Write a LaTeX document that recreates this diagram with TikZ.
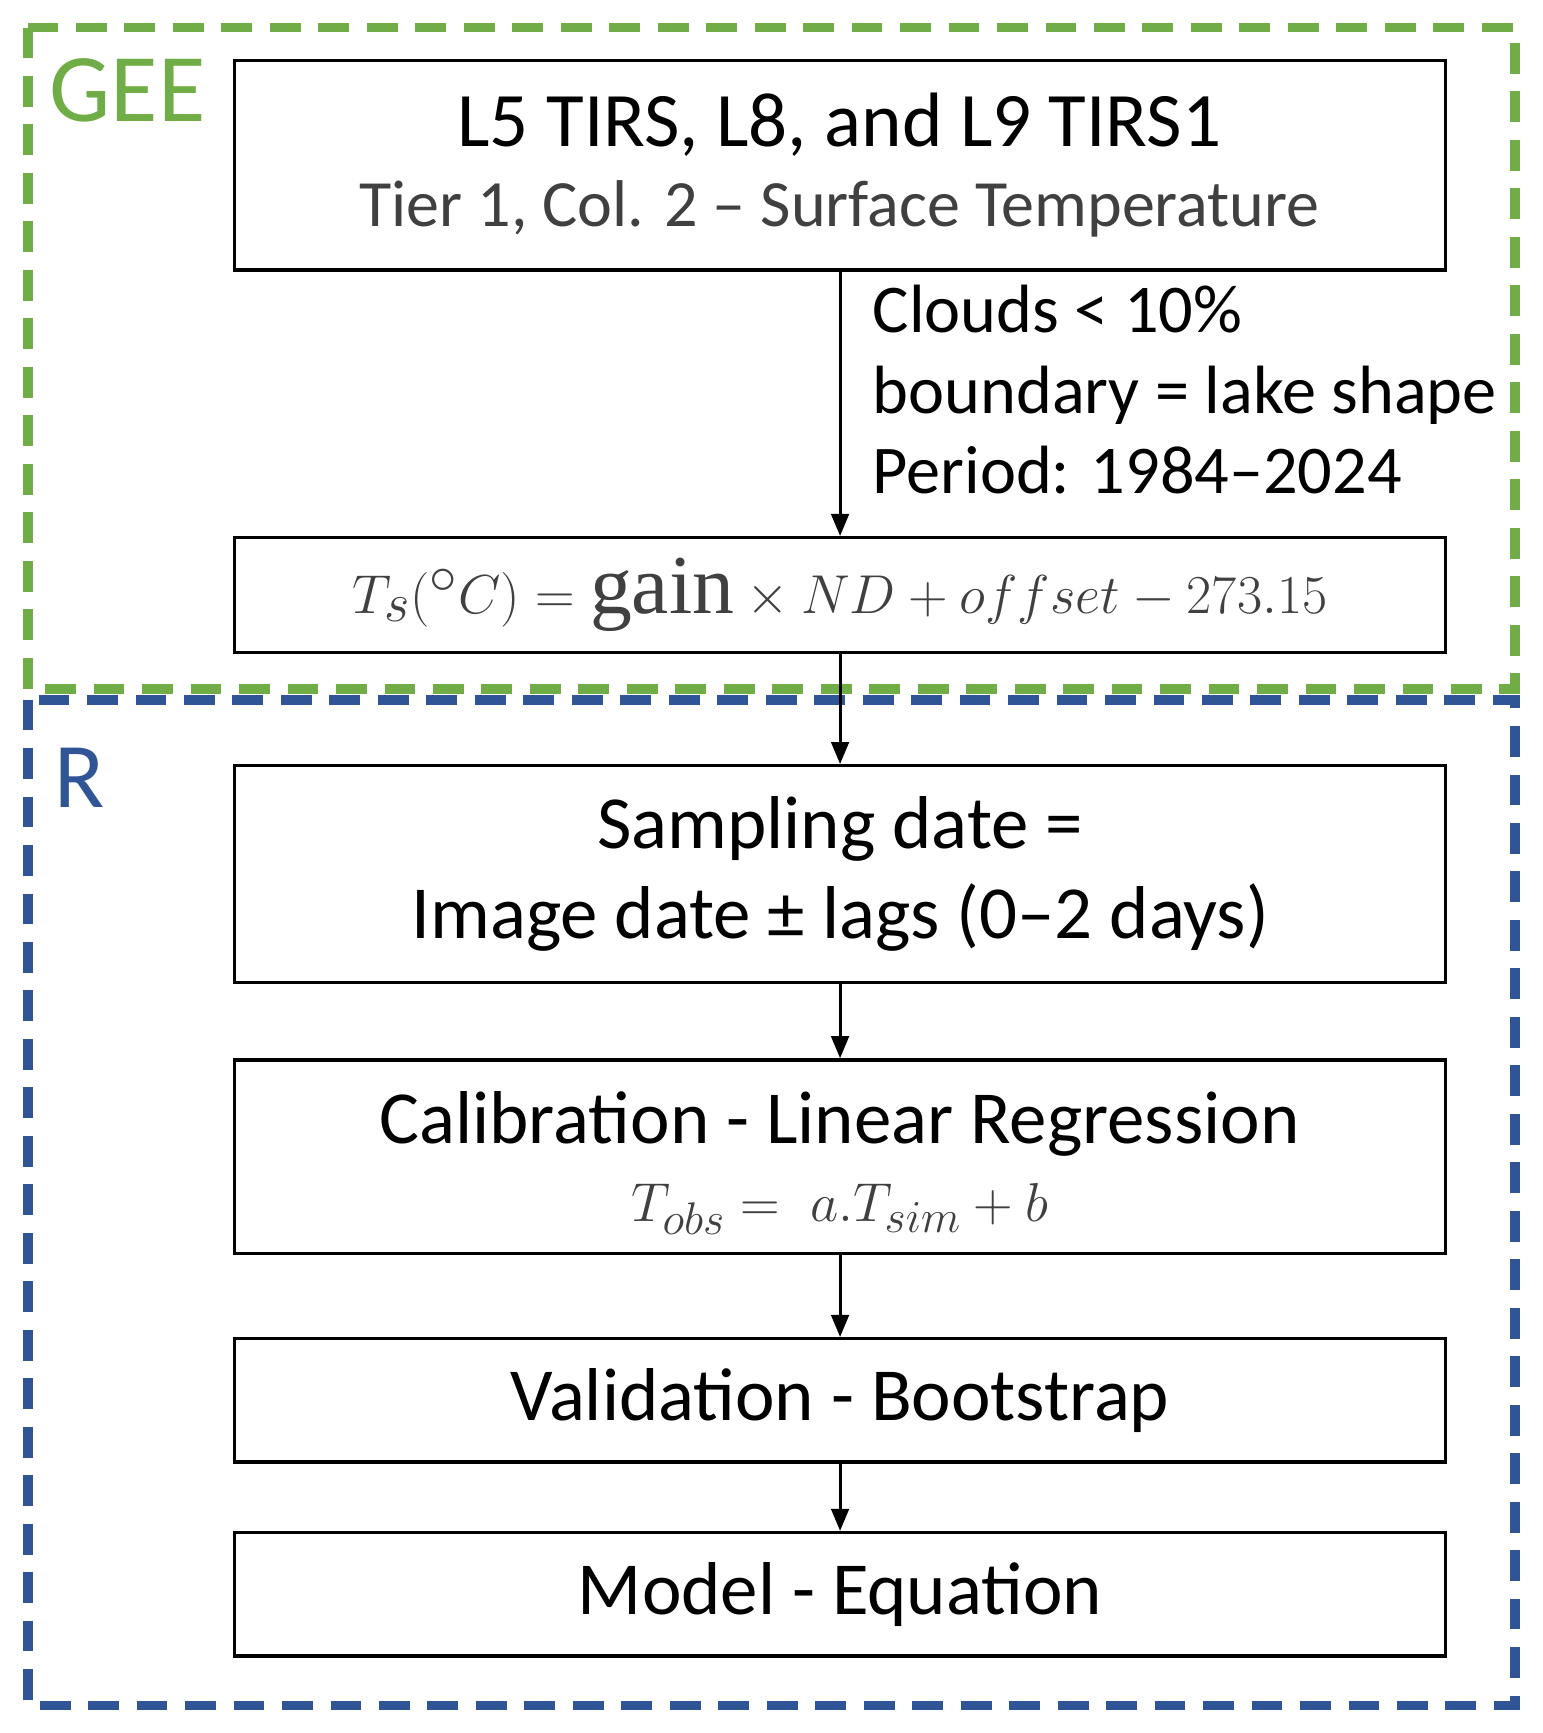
\documentclass[tikz,border=0pt]{standalone}
\usepackage{fontspec}
\setmainfont{Carlito}
\newfontfamily\serifgain{Liberation Serif}
\usetikzlibrary{arrows.meta}
\definecolor{geeg}{RGB}{112,173,71}
\definecolor{rblue}{RGB}{47,85,151}
\definecolor{tgrey}{RGB}{64,64,64}
\begin{document}
\begin{tikzpicture}[x=0.5pt,y=-0.5pt,
  box/.style={draw,line width=1.5pt,minimum width=549.5pt,align=center,inner sep=0pt},
  arr/.style={-{Triangle[length=10pt,width=8pt]},line width=1.3pt},
  frame/.style={dashed,line width=4.5pt,dash pattern=on 14pt off 8pt}]
\useasboundingbox (0,0) rectangle (1400,1573);
\draw[frame,geeg] (25,25) rectangle (1375,625);
\draw[frame,rblue] (25,635) rectangle (1375,1548);
\node[anchor=west,text=geeg,font=\fontsize{44}{52}\selectfont] (gee) at (38,82) {GEE};
\node[anchor=west,text=rblue,font=\fontsize{42}{50}\selectfont] (r) at (42,706) {R};
\node[box,minimum height=95pt] (b1) at (762.5,150) {};
\node[font=\fontsize{35}{40}\selectfont] (t1) at (762,113) {L5 TIRS, L8, and L9 TIRS1};
\node[font=\fontsize{30}{36}\selectfont,text=tgrey] (t2) at (762,190) {Tier 1, Col. 2 – Surface Temperature};
\node[box,minimum height=52pt,font=\fontsize{38}{44}\selectfont,text=tgrey] (b2) at (762.5,540) {$T_s(^\circ C) = \mbox{\serifgain gain}\times ND + offset - 273.15$};
\node[box,minimum height=98.5pt,font=\fontsize{34}{41}\selectfont] (b3) at (762.5,793.5) {Sampling date =\\Image date ± lags (0–2 days)};
\node[box,minimum height=88pt] (b4) at (762.5,1050) {};
\node[font=\fontsize{34}{40}\selectfont] (t4) at (762,1020) {Calibration - Linear Regression};
\node[font=\fontsize{30}{34}\selectfont,text=tgrey] (t5) at (762,1097) {$T_{obs} =\ a.T_{sim} + b$};
\node[box,minimum height=56pt,font=\fontsize{34}{40}\selectfont] (b5) at (762.5,1271) {Validation - Bootstrap};
\node[box,minimum height=56pt,font=\fontsize{34}{40}\selectfont] (b6) at (762.5,1447) {Model - Equation};
\node[anchor=north west,align=left,font=\fontsize{31}{36.5}\selectfont] (lab) at (785,252) {Clouds < 10\%\\boundary = lake shape\\Period: 1984–2024};
\draw[arr] (b1) -- (b2);
\draw[arr] (b2) -- (b3);
\draw[arr] (b3) -- (b4);
\draw[arr] (b4) -- (b5);
\draw[arr] (b5) -- (b6);
\end{tikzpicture}
\end{document}
